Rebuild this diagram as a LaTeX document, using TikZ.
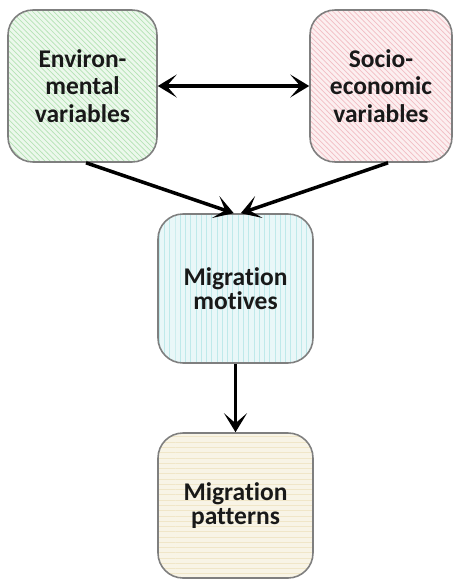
\documentclass[tikz,border=0pt]{standalone}
\usepackage{fontspec}
\setmainfont{Carlito}[Ligatures=NoCommon]
\usepackage{tikz}
\usetikzlibrary{patterns,arrows.meta}
\definecolor{envgreen}{HTML}{B5E3B5}
\definecolor{socred}{HTML}{F2BEC4}
\definecolor{motcyan}{HTML}{BFE9EA}
\definecolor{patbeige}{HTML}{F0E6C8}
\definecolor{boxedge}{HTML}{7F7F7F}

\begin{document}
\begin{tikzpicture}[
  box/.style={draw=boxedge,line width=0.9pt,rounded corners=0.5cm,
    align=center,inner sep=0pt,font=\bfseries\fontsize{14.5}{15.5}\selectfont,text=black!90},
  arr/.style={line width=2pt,-{Stealth[length=3.8mm,width=4.6mm,inset=2mm]}},
  dblarr/.style={line width=2pt,{Stealth[length=3.8mm,width=4.6mm,inset=2mm]}-{Stealth[length=3.8mm,width=4.6mm,inset=2mm]}}]
\useasboundingbox (0,0) rectangle (9.12,-11.6);
\node[box,minimum width=2.98cm,minimum height=3.04cm,
  preaction={fill=envgreen!25},pattern=north west lines,pattern color=envgreen]
  (env) at (1.65,-1.72) {Environ-\\mental\\variables};
\node[box,minimum width=2.84cm,minimum height=3.04cm,
  preaction={fill=socred!25},pattern=north west lines,pattern color=socred]
  (soc) at (7.62,-1.72) {Socio-\\economic\\variables};
\node[box,minimum width=3.1cm,minimum height=2.98cm,font=\bfseries\fontsize{14.5}{13.5}\selectfont,
  preaction={fill=motcyan!35},pattern=vertical lines,pattern color=motcyan]
  (mot) at (4.71,-5.77) {Migration\\motives};
\node[box,minimum width=3.1cm,minimum height=2.9cm,font=\bfseries\fontsize{14.5}{13.5}\selectfont,
  preaction={fill=patbeige!45},pattern=horizontal lines,pattern color=patbeige]
  (pat) at (4.71,-10.11) {Migration\\patterns};
\draw[dblarr] (env.east) -- (soc.west);
\draw[arr] ([xshift=2pt]env.south) -- ([xshift=-1pt]mot.north);
\draw[arr] ([xshift=4pt]soc.south) -- ([xshift=3pt]mot.north);
\draw[arr] (mot.south) -- (pat.north);
\end{tikzpicture}
\end{document}
